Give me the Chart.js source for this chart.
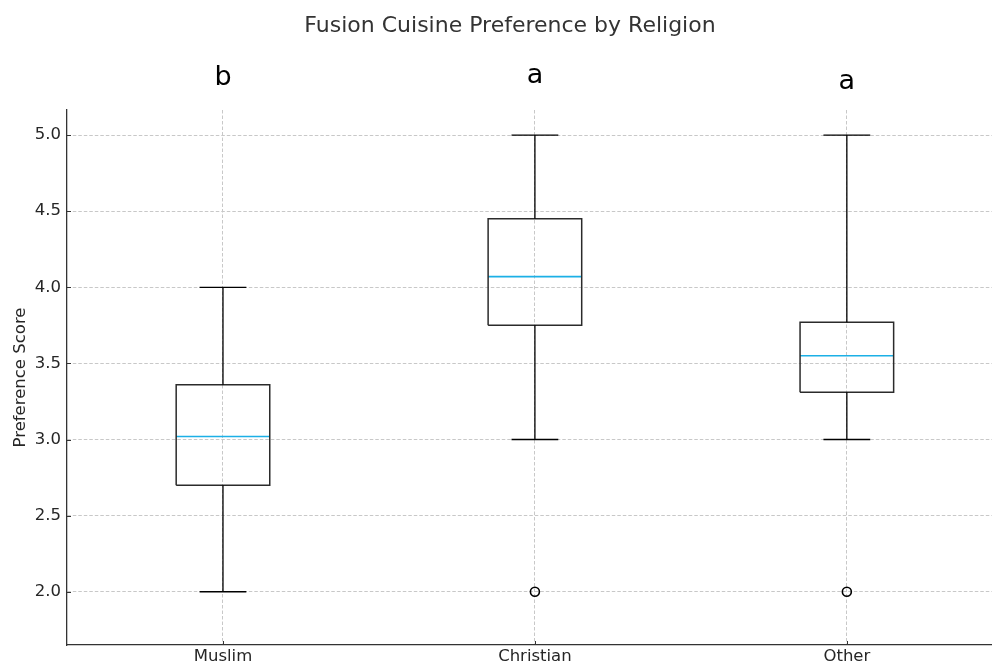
<!DOCTYPE html>
<html>
<head>
<meta charset="utf-8">
<title>Fusion Cuisine Preference by Religion</title>
<script src="https://cdn.jsdelivr.net/npm/chart.js@4.4.1/dist/chart.umd.min.js"></script>
<style>
  html, body { margin: 0; padding: 0; background: #ffffff; overflow: hidden; }
  #frame { width: 992px; height: 666px; overflow: hidden; position: relative; }
  #holder { width: 998px; height: 680px; position: absolute; left: 0; top: 0; }
</style>
</head>
<body>
<div id="frame"><div id="holder"><canvas id="chart"></canvas></div></div>
<script>
// Box-plot summary per group
const categories = ['Muslim', 'Christian', 'Other'];
const whiskerLow = [2.0, 3.0, 3.0];
const q1Values = [2.70, 3.75, 3.31];
const medianValues = [3.02, 4.07, 3.55];
const q3Values = [3.36, 4.45, 3.77];
const whiskerHigh = [4.0, 5.0, 5.0];
const outlierValues = [[], [2.0], [2.0]];

// Significance letters shown above each group, and the level they sit at
const groupLetters = ['b', 'a', 'a'];
const letterLevels = [5.33, 5.34, 5.30];

const yTicks = [2.0, 2.5, 3.0, 3.5, 4.0, 4.5, 5.0];
const chartTitle = 'Fusion Cuisine Preference by Religion';

const BOX_HALF = 0.15;   // half box width in x units
const CAP_HALF = 0.075;  // half whisker-cap width in x units
const FONT = '"DejaVu Sans", sans-serif';
const GAP = (x) => ({ x: x, y: null });

// Box outlines: closed rectangles q1..q3
const boxPoints = [];
categories.forEach((c, i) => {
  const x = i + 1;
  boxPoints.push(
    { x: x - BOX_HALF, y: q1Values[i] },
    { x: x + BOX_HALF, y: q1Values[i] },
    { x: x + BOX_HALF, y: q3Values[i] },
    { x: x - BOX_HALF, y: q3Values[i] },
    { x: x - BOX_HALF, y: q1Values[i] },
    GAP(x)
  );
});

// Whiskers with caps
const whiskerPoints = [];
categories.forEach((c, i) => {
  const x = i + 1;
  whiskerPoints.push(
    { x: x, y: q1Values[i] }, { x: x, y: whiskerLow[i] }, GAP(x),
    { x: x, y: q3Values[i] }, { x: x, y: whiskerHigh[i] }, GAP(x),
    { x: x - CAP_HALF, y: whiskerLow[i] }, { x: x + CAP_HALF, y: whiskerLow[i] }, GAP(x),
    { x: x - CAP_HALF, y: whiskerHigh[i] }, { x: x + CAP_HALF, y: whiskerHigh[i] }, GAP(x)
  );
});

// Median lines
const medianPoints = [];
categories.forEach((c, i) => {
  const x = i + 1;
  medianPoints.push({ x: x - BOX_HALF, y: medianValues[i] }, { x: x + BOX_HALF, y: medianValues[i] }, GAP(x));
});

// Outlier markers
const outlierPoints = [];
outlierValues.forEach((vals, i) => vals.forEach(v => outlierPoints.push({ x: i + 1, y: v })));

// Short inward tick marks on the left and bottom spines
const inwardTicks = {
  id: 'inwardTicks',
  afterDraw(chart) {
    const { ctx, chartArea, scales } = chart;
    ctx.save();
    ctx.strokeStyle = '#333333';
    ctx.lineWidth = 1;
    ctx.beginPath();
    yTicks.forEach(v => {
      const y = Math.round(scales.y.getPixelForValue(v)) + 0.5;
      ctx.moveTo(chartArea.left, y);
      ctx.lineTo(chartArea.left + 4, y);
    });
    categories.forEach((c, i) => {
      const x = Math.round(scales.x.getPixelForValue(i + 1)) + 0.5;
      ctx.moveTo(x, chartArea.bottom);
      ctx.lineTo(x, chartArea.bottom - 4);
    });
    ctx.stroke();
    ctx.restore();
  }
};

// Figure title and group letters above the plot
const headerPlugin = {
  id: 'header',
  afterDraw(chart) {
    const { ctx, scales } = chart;
    ctx.save();
    ctx.fillStyle = '#333333';
    ctx.font = '22px ' + FONT;
    ctx.textAlign = 'center';
    ctx.textBaseline = 'middle';
    ctx.fillText(chartTitle, 510, 26);

    ctx.fillStyle = '#000000';
    ctx.font = '27px ' + FONT;
    ctx.textBaseline = 'alphabetic';
    groupLetters.forEach((t, i) => {
      ctx.fillText(t, scales.x.getPixelForValue(i + 1), scales.y.getPixelForValue(letterLevels[i]));
    });
    ctx.restore();
  }
};

const lineSet = (data, color, width) => ({
  type: 'scatter',
  data: data,
  showLine: true,
  spanGaps: false,
  borderColor: color,
  borderWidth: width,
  pointRadius: 0,
  pointHoverRadius: 0,
  fill: false
});

new Chart(document.getElementById('chart'), {
  type: 'scatter',
  data: {
    datasets: [
      lineSet(whiskerPoints, '#000000', 1.3),
      lineSet(boxPoints, '#2b2b2b', 1.5),
      lineSet(medianPoints, '#1cb0e6', 1.6),
      {
        type: 'scatter',
        data: outlierPoints,
        pointStyle: 'circle',
        pointRadius: 4.5,
        pointBorderWidth: 1.6,
        pointBorderColor: '#000000',
        pointBackgroundColor: 'rgba(0,0,0,0)',
        borderColor: '#000000',
        backgroundColor: 'rgba(0,0,0,0)',
        borderWidth: 1.6,
        showLine: false
      }
    ]
  },
  options: {
    responsive: true,
    maintainAspectRatio: false,
    animation: false,
    layout: { padding: { top: 110, left: 0, right: 0, bottom: 0 } },
    plugins: {
      legend: { display: false },
      tooltip: { enabled: false },
      title: { display: false }
    },
    scales: {
      x: {
        type: 'linear',
        min: 0.5,
        max: 3.465,
        afterBuildTicks: (s) => { s.ticks = categories.map((c, i) => ({ value: i + 1 })); },
        afterFit: (s) => { s.height = 35; s.paddingLeft = 0; s.paddingRight = 0; },
        ticks: {
          color: '#262626',
          font: { family: FONT, size: 16.5 },
          padding: 2,
          autoSkip: false,
          maxRotation: 0,
          callback: (v) => categories[Math.round(v) - 1]
        },
        grid: { color: '#c8c8c8', lineWidth: 1, drawTicks: false },
        border: { display: true, color: '#333333', width: 1.3, dash: [3.5, 2] }
      },
      y: {
        type: 'linear',
        min: 1.65,
        max: 5.165,
        afterBuildTicks: (s) => { s.ticks = yTicks.map(v => ({ value: v })); },
        afterFit: (s) => { s.width = 67; s.paddingTop = 0; s.paddingBottom = 0; },
        ticks: {
          color: '#262626',
          font: { family: FONT, size: 16.5 },
          padding: 6,
          callback: (v) => Number(v).toFixed(1)
        },
        grid: { color: '#c8c8c8', lineWidth: 1, drawTicks: false },
        border: { display: true, color: '#333333', width: 1.3, dash: [3.5, 2] },
        title: {
          display: true,
          text: 'Preference Score',
          color: '#262626',
          font: { family: FONT, size: 16.5 },
          padding: { top: 11, bottom: 0 }
        }
      }
    }
  },
  plugins: [inwardTicks, headerPlugin]
});
</script>
</body>
</html>
